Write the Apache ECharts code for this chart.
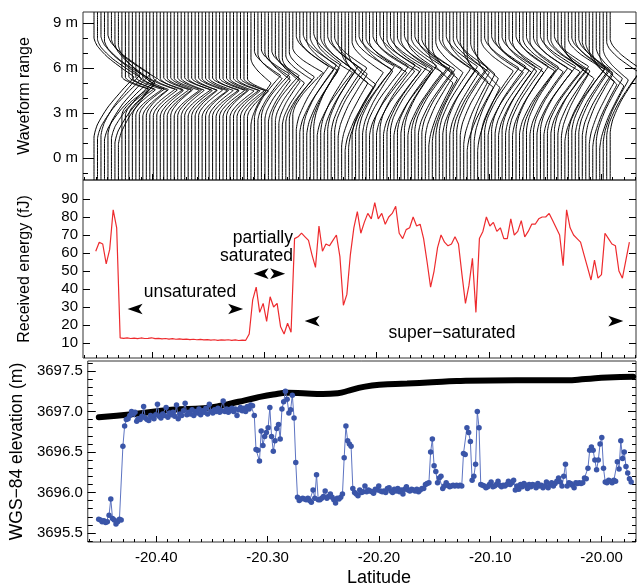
<!DOCTYPE html>
<html>
<head>
<meta charset="utf-8">
<script src="https://cdn.jsdelivr.net/npm/echarts@6/dist/echarts.min.js"></script>
<style>
html,body{margin:0;padding:0;background:#fff;}
#chart{width:637px;height:586px;}
</style>
</head>
<body>
<div id="chart"></div>
<script>
// ---- data ----
var shotLat0 = -20.4517;    // latitude of the first shot
var shotStep = 0.0015528;   // along-track shot spacing (deg)
var traceEvery = 2;         // a waveform is drawn for every other shot
var energyEvery = 2;        // energy read at every other shot, from shot 1

// WGS-84 elevation of every shot (m)
var elevation = [
  3695.67,3695.66,3695.64,3695.65,3695.63,3695.64,3695.72,3695.92,3695.68,3695.66,3695.61,3695.64,3695.67,3695.66,
  3696.57,3696.82,3696.90,3696.91,
  3696.95,3697.00,3696.97,3696.99,3696.88,3696.91,3696.90,3696.94,3697.06,3696.92,
  3696.90,3696.89,3696.95,3696.93,3696.91,3696.96,3697.09,3696.94,3696.92,3696.97,
  3696.95,3697.05,3696.93,3696.98,3696.96,3696.99,3696.94,3697.08,3696.91,3696.97,
  3696.95,3697.01,3697.10,3696.96,3696.99,3696.97,3697.02,3696.95,3697.00,3696.98,
  3697.03,3696.96,3697.01,3696.99,3697.04,3696.97,3697.09,3697.00,3696.98,3697.02,
  3697.00,3697.04,3696.99,3697.01,3697.13,3697.00,3697.03,3696.99,3697.02,3697.04,
  3697.00,3697.03,3696.95,3697.02,3697.05,3697.01,3697.04,3697.00,3697.06,3697.03,
  3697.08,3697.07,
  3696.95,
  3696.53,3696.52,3696.39,3696.76,3696.58,3696.69,3696.74,3696.80,3697.05,3696.69,
  3696.51,3696.64,3696.79,3696.84,3696.66,3697.03,3697.12,3697.25,3697.15,3696.98,
  3697.02,3697.20,3696.92,3696.37,3695.94,
  3695.90,3695.92,3695.93,3695.92,3695.91,3695.93,3695.90,3695.88,3696.03,3695.93,
  3696.22,3695.91,3695.91,3695.93,3695.95,3696.02,3695.93,3695.95,3695.98,3695.94,
  3695.91,3695.87,3695.93,3695.92,3695.94,3695.98,3696.43,3696.82,3696.64,3696.60,
  3696.57,3696.05,3696.00,3695.98,3695.96,3696.03,3696.00,3696.01,3696.08,3696.01,
  3696.03,3696.02,3696.01,3695.99,3696.04,3696.03,3696.08,3696.02,3696.01,3696.02,
  3696.00,3696.05,3696.06,3696.02,3696.00,3696.04,3696.02,3696.05,3696.01,3696.03,
  3695.98,3696.04,3696.07,3696.03,3696.02,3696.04,3696.03,3696.02,3696.04,3696.01,
  3696.03,3696.05,3696.05,3696.10,3696.11,3696.12,3696.50,3696.66,3696.33,3696.26,
  3696.12,3696.18,3696.20,3696.05,3696.08,3696.12,3696.09,3696.07,3696.08,3696.09,
  3696.08,3696.09,3696.08,3696.09,3696.08,3696.48,3696.47,3696.80,3696.74,3696.63,
  3696.15,3696.20,3696.35,3697.00,3696.80,3696.10,3696.09,3696.08,3696.06,3696.07,
  3696.10,3696.13,3696.07,3696.08,3696.10,3696.14,3696.09,3696.07,3696.09,3696.08,
  3696.10,3696.14,3696.10,3696.12,3696.15,3696.03,3696.08,3696.04,3696.10,3696.07,
  3696.11,3696.09,3696.05,3696.10,3696.07,3696.10,3696.09,3696.06,3696.11,3696.08,
  3696.09,3696.06,3696.08,3696.13,3696.06,3696.10,3696.12,3696.08,3696.11,3696.14,
  3696.18,3696.13,3696.08,3696.20,3696.35,3696.08,3696.12,3696.11,3696.09,3696.06,
  3696.12,3696.11,3696.12,3696.11,3696.12,3696.18,3696.17,3696.30,3696.52,3696.56,
  3696.52,3696.40,3696.28,3696.40,3696.60,3696.68,3696.30,3696.13,3696.12,3696.15,
  3696.14,3696.12,3696.15,3696.14,3696.38,3696.29,3696.64,3696.42,3696.50,3696.32,
  3696.24,3696.17,3696.13
];

// received energy (fJ), every other shot
var energy = [
  61,66,65,54,62,84,74,12.8,12.6,12.8,
  12.5,12.7,12.4,12.8,12.5,12.6,12.9,12.4,12.6,12.3,
  12.5,12.2,12.4,12.1,12.3,12.0,12.2,11.9,12.1,11.8,
  12.0,11.7,11.9,11.6,11.8,11.5,11.7,11.6,11.8,11.5,
  11.7,11.4,11.6,11.5,15,34,41,27,32,22,
  35.7,30,32,19,15,21,16,68,69,71,
  69,67,59,52,75,61,65,64,67,70,
  58,31,37,59,74,83,71,77,82,79,
  88,79,82,76,80,82,86,71,68,73,
  74,80,75,76,68,55,41,50,63,70,
  66,64,65,69,65,48,32,42,57,27,
  68,72,80,75,77,72,74,68,68,79,
  70,72,78,69,72,76,76,79,80,80,
  82,78,74,70,53,84,74,70,68,66,
  59,52,45,56,46,48,71,68,65,64,
  50,46,56,66
];

// smooth reference surface (black curve)
var refLat = [-20.4516,-20.4196,-20.3866,-20.3573,-20.3421,-20.3261,-20.3101,-20.2949,-20.2816,-20.2682,
  -20.2504,-20.2370,-20.2263,-20.2148,-20.1996,-20.1747,-20.1524,-20.1302,-20.0768,-20.0456,
  -20.0322,-20.0144,-19.9948,-19.9716];
var refElev = [3696.93,3696.97,3697.02,3697.04,3697.07,3697.12,3697.17,3697.21,3697.23,3697.225,
  3697.215,3697.225,3697.26,3697.30,3697.33,3697.345,3697.36,3697.375,3697.385,3697.385,
  3697.385,3697.40,3697.42,3697.43];

// waveforms: range of the peak (m) and peak amplitude (counts) of each trace
var traceRange = [
  5.4,5.3,5.5,5.2,5.6,5.3,5.0,4.9,
  4.60,4.58,4.62,4.55,4.57,4.60,4.52,4.56,4.58,4.54,
  4.57,4.50,4.55,4.53,4.56,4.51,4.54,4.52,4.55,4.50,
  4.53,4.51,4.54,4.49,4.52,4.50,4.53,4.48,4.51,4.49,
  4.52,4.47,4.50,4.48,4.50,4.47,4.46,
  5.0,5.5,5.3,5.6,5.4,5.2,5.5,5.3,5.1,5.0,5.2,5.4,5.7,
  6.1,5.9,6.2,5.8,6.0,6.3,5.7,6.0,5.8,6.1,
  5.9,6.0,5.6,5.0,4.7,4.9,5.7,5.9,6.1,5.8,
  5.95,5.7,6.1,5.8,6.2,5.75,5.9,6.05,5.7,6.0,
  5.85,6.15,5.7,5.95,6.1,5.8,5.9,5.6,5.0,5.3,
  5.7,5.95,5.8,6.1,5.7,5.9,6.0,5.7,5.1,4.7,
  5.6,5.3,4.7,5.8,6.0,5.7,6.1,5.85,5.7,6.05,
  5.8,5.95,5.7,6.1,5.8,5.9,6.05,5.75,6.0,5.8,
  6.1,5.75,5.95,5.85,6.1,5.8,5.6,5.3,5.9,6.0,
  5.8,5.9,5.7,5.6,5.1,4.9,5.3,4.8,5.2,5.7,
  5.9
];
var traceAmp = [
  40,44,38,46,42,45,40,35,
  26,24,25,23,26,25,24,22,25,24,
  26,23,25,24,22,25,24,23,26,24,
  25,22,24,25,23,24,26,23,25,24,
  22,24,25,23,24,22,21,
  20,26,24,28,25,22,27,24,21,22,26,25,30,
  32,34,33,31,29,27,35,30,31,30,
  31,32,29,26,28,27,31,36,35,30,
  36,37,35,38,35,36,34,36,37,35,
  32,32,34,35,35,34,33,29,24,25,
  27,31,32,31,29,32,31,29,24,26,
  24,24,22,32,34,35,34,34,33,33,
  31,33,31,32,35,33,32,33,34,35,
  35,36,36,36,34,32,27,29,36,33,
  32,31,30,27,25,24,26,24,25,32,
  31
];
// pulse width (m) above / below the peak, per group of traces
var modeStart = [0, 8, 45, 58];
var modeUpper = [2.6, 0.8, 1.6, 2.0];
var modeLower = [4.0, 1.7, 2.8, 4.2];
var pulseProfile = [1, 0.87, 0.73, 0.6, 0.47, 0.35, 0.25, 0.16, 0.08, 0.03, 0];
var ampScale = 1 / 1122.5;  // deg of latitude per waveform count

var latTicks = [-20.4, -20.3, -20.2, -20.1, -20.0];
var rangeTicks = [0, 3, 6, 9];
var rangeMinor = [-1, 1, 2, 4, 5, 7, 8];
var energyTicks = [10, 20, 30, 40, 50, 60, 70, 80, 90];
var elevTicks = [3695.5, 3696.0, 3696.5, 3697.0, 3697.5];

// ---- chart ----
var FONT = "'Liberation Sans', Arial, Helvetica, sans-serif";
var latMin = -20.4615, latMax = -19.9691;
var latMinor = [];
for (var t = -20.46; t <= -19.965; t += 0.01) latMinor.push(+t.toFixed(2));
var elevMinor = [];
for (var e = 3695.4; e <= 3697.61; e += 0.1) elevMinor.push(+e.toFixed(1));

var grids = [
  {left: 83, top: 12, width: 553, height: 168},
  {left: 83, top: 180, width: 553, height: 178},
  {left: 83, top: 361, width: 553, height: 181}
];
var yRanges = [[-1.467, 9.733], [1.67, 100.56], [3695.389, 3697.623]];

var xAxes = [];
grids.forEach(function (g, gi) {
  // minor ticks, then major ticks with labels on the last panel
  xAxes.push({gridIndex: gi, type: 'value', min: latMin, max: latMax, position: 'bottom',
    axisLine: {show: false, onZero: false}, splitLine: {show: false}, axisLabel: {show: false},
    axisTick: {inside: true, length: 3, customValues: latMinor, lineStyle: {color: '#000'}}});
  xAxes.push({gridIndex: gi, type: 'value', min: latMin, max: latMax, position: 'bottom',
    axisLine: {show: false, onZero: false}, splitLine: {show: false},
    axisTick: {inside: true, length: 6, customValues: latTicks, lineStyle: {color: '#000'}},
    axisLabel: {show: gi === 2, customValues: latTicks, margin: 8, color: '#000',
      fontFamily: FONT, fontSize: 15, formatter: function (v) { return v.toFixed(2); }}});
});

function yAxis(gi, pos, ticks, len, labels, fmt, name, nameSize, nameGap) {
  return {gridIndex: gi, type: 'value', position: pos, min: yRanges[gi][0], max: yRanges[gi][1],
    axisLine: {show: false, onZero: false}, splitLine: {show: false},
    axisTick: {inside: true, length: len, customValues: ticks, lineStyle: {color: '#000'}},
    axisLabel: labels ? {show: true, customValues: labels, margin: 5, color: '#000',
      fontFamily: FONT, fontSize: 15, formatter: fmt} : {show: false},
    name: name || '', nameLocation: 'middle', nameGap: nameGap || 0,
    nameTextStyle: {color: '#000', fontFamily: FONT, fontSize: nameSize || 15}};
}
var yAxes = [
  yAxis(0, 'left', rangeTicks, 11, rangeTicks, function (v) { return v + ' m'; }, 'Waveform range', 16, 50),
  yAxis(0, 'left', rangeMinor, 5),
  yAxis(0, 'right', rangeTicks, 11),
  yAxis(0, 'right', rangeMinor, 5),
  yAxis(1, 'left', energyTicks, 7, energyTicks, function (v) { return v; }, 'Received energy (fJ)', 16, 50),
  yAxis(1, 'left', energyTicks, 7),
  yAxis(1, 'right', energyTicks, 7),
  yAxis(1, 'right', energyTicks, 7),
  yAxis(2, 'left', elevTicks, 8, elevTicks, function (v) { return v.toFixed(1); }, 'WGS\u221284 elevation (m)', 17.5, 56),
  yAxis(2, 'left', elevMinor, 5),
  yAxis(2, 'right', elevTicks, 8),
  yAxis(2, 'right', elevMinor, 4)
];

var series = [];

// waveform traces
traceRange.forEach(function (p, k) {
  var m = 0;
  for (var q = 0; q < modeStart.length; q++) if (k >= modeStart[q]) m = q;
  var lat0 = shotLat0 + shotStep * traceEvery * k;
  var a = traceAmp[k] * ampScale;
  var n = pulseProfile.length;
  var pts = [[lat0, yRanges[0][0]]];
  for (var i = n - 1; i >= 1; i--) pts.push([lat0 + a * pulseProfile[i], p - modeLower[m] * i / (n - 1)]);
  pts.push([lat0 + a, p]);
  for (var j = 1; j < n; j++) pts.push([lat0 + a * pulseProfile[j], p + modeUpper[m] * j / (n - 1)]);
  pts.push([lat0, yRanges[0][1]]);
  series.push({type: 'line', xAxisIndex: 1, yAxisIndex: 0, data: pts, symbol: 'none',
    smooth: 0.15, silent: true, lineStyle: {color: '#000', width: 1}});
});

function arrow(lat, val, rot) {
  return {coord: [lat, val], symbol: 'arrow', symbolSize: [8, 15], symbolRotate: rot,
    itemStyle: {color: '#000'}, label: {show: false}};
}
series.push({type: 'line', xAxisIndex: 3, yAxisIndex: 4, symbol: 'none', silent: true,
  data: energy.map(function (v, i) { return [shotLat0 + shotStep * (energyEvery * i + 1), v]; }),
  lineStyle: {color: '#ee2b2e', width: 1.2},
  markPoint: {silent: true, data: [
    arrow(-20.4218, 28.9, 90), arrow(-20.3189, 28.9, -90),
    arrow(-20.3096, 48.5, 90), arrow(-20.2815, 48.5, -90),
    arrow(-20.2641, 22.2, 90), arrow(-19.9804, 22.2, -90)
  ]}});

series.push({type: 'line', xAxisIndex: 5, yAxisIndex: 8, symbol: 'none', smooth: true, silent: true,
  data: refLat.map(function (v, i) { return [v, refElev[i]]; }),
  lineStyle: {color: '#000', width: 6, cap: 'round'}});
series.push({type: 'line', xAxisIndex: 5, yAxisIndex: 8, symbol: 'circle', symbolSize: 5.5, silent: true,
  data: elevation.map(function (v, i) { return [shotLat0 + shotStep * i, v]; }),
  itemStyle: {color: '#3a55a8'}, lineStyle: {color: '#5d74c2', width: 1}});

function txt(x, y, s, size, align) {
  return {type: 'text', x: x, y: y, z: 100, style: {text: s, fill: '#000',
    font: size + 'px ' + FONT, align: align || 'center', verticalAlign: 'middle'}};
}

var chart = echarts.init(document.getElementById('chart'));
chart.setOption({
  animation: false,
  backgroundColor: '#fff',
  grid: grids.map(function (g) {
    return Object.assign({show: true, borderColor: '#333', borderWidth: 1, backgroundColor: 'transparent'}, g);
  }),
  xAxis: xAxes,
  yAxis: yAxes,
  series: series,
  graphic: [
    txt(190, 292, 'unsaturated', 17.5),
    txt(293, 238, 'partially', 17.5, 'right'),
    txt(293, 256, 'saturated', 17.5, 'right'),
    txt(452, 333, 'super\u2212saturated', 17.5),
    txt(379, 578, 'Latitude', 18)
  ]
});
</script>
</body>
</html>
